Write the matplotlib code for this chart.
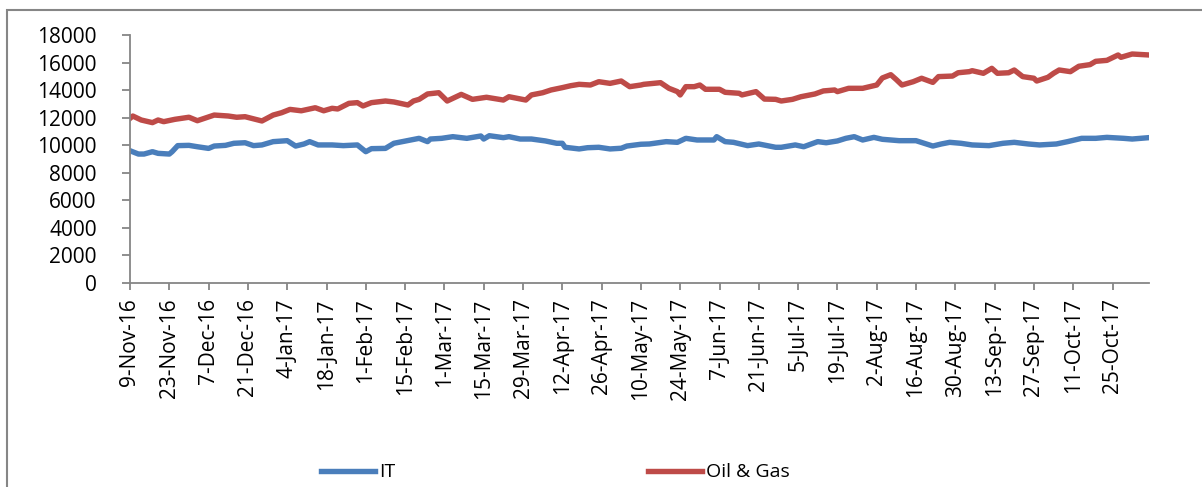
#!/usr/bin/env python3

import numpy as np
import pandas as pd
import matplotlib
matplotlib.use('Agg')
from matplotlib import pyplot as plt
from matplotlib import dates as mdates
from matplotlib.patches import Rectangle
from matplotlib.ticker import FuncFormatter, MultipleLocator

# IT index
it_dates = ['2016-11-09','2016-11-12','2016-11-14','2016-11-17','2016-11-19','2016-11-23','2016-11-24',
            '2016-11-26','2016-11-30','2016-12-03','2016-12-07','2016-12-09','2016-12-13','2016-12-16',
            '2016-12-20','2016-12-23','2016-12-26','2016-12-30','2017-01-04','2017-01-07','2017-01-10',
            '2017-01-12','2017-01-15','2017-01-20','2017-01-24','2017-01-29','2017-02-01','2017-02-03',
            '2017-02-08','2017-02-11','2017-02-14','2017-02-17','2017-02-20','2017-02-23','2017-02-24',
            '2017-02-28','2017-03-04','2017-03-09','2017-03-14','2017-03-15','2017-03-17','2017-03-22',
            '2017-03-24','2017-03-28','2017-04-01','2017-04-06','2017-04-10','2017-04-12','2017-04-13',
            '2017-04-18','2017-04-21','2017-04-25','2017-04-29','2017-05-03','2017-05-05','2017-05-10',
            '2017-05-13','2017-05-19','2017-05-23','2017-05-26','2017-05-30','2017-06-05','2017-06-06',
            '2017-06-09','2017-06-12','2017-06-17','2017-06-21','2017-06-27','2017-06-29','2017-07-04',
            '2017-07-07','2017-07-12','2017-07-15','2017-07-19','2017-07-22','2017-07-25','2017-07-28',
            '2017-08-01','2017-08-04','2017-08-10','2017-08-16','2017-08-22','2017-08-25','2017-08-28',
            '2017-09-01','2017-09-05','2017-09-11','2017-09-16','2017-09-20','2017-09-25','2017-09-29',
            '2017-10-05','2017-10-09','2017-10-14','2017-10-19','2017-10-23','2017-10-29','2017-11-01',
            '2017-11-07']
it_values = [9600, 9360, 9360, 9530, 9410, 9360, 9530,
             9970, 9990, 9890, 9770, 9940, 9990, 10140,
             10180, 9970, 10020, 10260, 10330, 9940, 10090,
             10260, 10020, 10020, 9970, 10020, 9530, 9750,
             9770, 10140, 10260, 10380, 10500, 10260, 10450,
             10500, 10620, 10500, 10670, 10450, 10690, 10550,
             10620, 10450, 10450, 10310, 10140, 10140, 9850,
             9730, 9820, 9850, 9730, 9780, 9940, 10070,
             10090, 10260, 10210, 10500, 10380, 10380, 10620,
             10260, 10210, 9970, 10090, 9850, 9850, 10020,
             9890, 10260, 10180, 10310, 10500, 10620, 10380,
             10570, 10430, 10330, 10330, 9940, 10090, 10210,
             10140, 10020, 9970, 10140, 10210, 10090, 10020,
             10090, 10260, 10500, 10500, 10570, 10500, 10450,
             10550]

# Oil & Gas index
oil_dates = ['2016-11-09','2016-11-10','2016-11-13','2016-11-17','2016-11-19','2016-11-21','2016-11-25',
             '2016-11-30','2016-12-03','2016-12-09','2016-12-14','2016-12-17','2016-12-20','2016-12-26',
             '2016-12-30','2017-01-02','2017-01-05','2017-01-09','2017-01-14','2017-01-17','2017-01-20',
             '2017-01-22','2017-01-26','2017-01-29','2017-01-31','2017-02-03','2017-02-08','2017-02-11',
             '2017-02-16','2017-02-18','2017-02-20','2017-02-23','2017-02-27','2017-03-02','2017-03-07',
             '2017-03-11','2017-03-16','2017-03-22','2017-03-24','2017-03-30','2017-04-01','2017-04-05',
             '2017-04-08','2017-04-12','2017-04-15','2017-04-18','2017-04-22','2017-04-25','2017-04-29',
             '2017-05-03','2017-05-06','2017-05-10','2017-05-11','2017-05-17','2017-05-20','2017-05-23',
             '2017-05-24','2017-05-26','2017-05-29','2017-05-31','2017-06-02','2017-06-07','2017-06-09',
             '2017-06-14','2017-06-15','2017-06-20','2017-06-23','2017-06-27','2017-06-29','2017-07-03',
             '2017-07-06','2017-07-11','2017-07-14','2017-07-18','2017-07-19','2017-07-23','2017-07-28',
             '2017-08-02','2017-08-04','2017-08-07','2017-08-09','2017-08-11','2017-08-15','2017-08-18',
             '2017-08-22','2017-08-24','2017-08-29','2017-08-31','2017-09-04','2017-09-05','2017-09-09',
             '2017-09-12','2017-09-14','2017-09-18','2017-09-20','2017-09-23','2017-09-27','2017-09-28',
             '2017-10-02','2017-10-04','2017-10-06','2017-10-10','2017-10-13','2017-10-17','2017-10-19',
             '2017-10-23','2017-10-27','2017-10-28','2017-11-01','2017-11-07']
oil_values = [11950, 12120, 11830, 11640, 11830, 11710, 11880,
              12030, 11780, 12190, 12120, 12030, 12070, 11760,
              12190, 12360, 12600, 12500, 12720, 12500, 12680,
              12630, 13040, 13090, 12850, 13090, 13210, 13140,
              12920, 13210, 13330, 13720, 13810, 13210, 13690,
              13330, 13480, 13280, 13520, 13280, 13650, 13810,
              14010, 14180, 14320, 14420, 14370, 14610, 14490,
              14660, 14250, 14370, 14420, 14540, 14130, 13890,
              13650, 14250, 14250, 14370, 14060, 14060, 13840,
              13770, 13650, 13890, 13350, 13330, 13210, 13330,
              13520, 13720, 13940, 14010, 13890, 14130, 14130,
              14370, 14880, 15120, 14760, 14370, 14610, 14860,
              14560, 14980, 15020, 15260, 15340, 15410, 15220,
              15580, 15220, 15260, 15460, 14980, 14860, 14660,
              14930, 15220, 15460, 15340, 15730, 15850, 16090,
              16160, 16550, 16380, 16620, 16550]

series_names = ['IT', 'Oil & Gas']
start_date = '2016-11-09'
end_date = '2017-11-07'
y_max = 18000
y_step = 2000

it_color = '#4A7EBB'
oil_color = '#BE4B48'
axis_gray = '#868686'
font = ['Open Sans', 'DejaVu Sans']


def tick_label(x, pos):
    ''' Excel style d-Mon-yy without leading zero '''
    d = mdates.num2date(x)
    return f'{d.day}-{d.strftime("%b-%y")}'


def plot():
    plt.rcParams['font.family'] = font

    fig = plt.figure(figsize=(12.02, 4.87), dpi=100)
    ax = fig.add_axes([130/1202, 1-283/487, (1149-130)/1202, (283-35)/487])

# chart area border (open to the right and bottom, as in the source)
    fig.patches.append(Rectangle((7/1202, -0.2), 1.2, 0.2+(1-10/487),
                                 transform=fig.transFigure, fill=False,
                                 edgecolor=axis_gray, lw=1.5, clip_on=False))

    it_x = pd.to_datetime(it_dates)
    oil_x = pd.to_datetime(oil_dates)
    ax.plot(it_x, it_values, color=it_color, lw=3.9, label=series_names[0], solid_joinstyle='round')
    ax.plot(oil_x, oil_values, color=oil_color, lw=3.9, label=series_names[1], solid_joinstyle='round')

    ax.set_xlim(pd.Timestamp(start_date), pd.Timestamp(end_date))
    ax.set_ylim(0, y_max)
    ax.yaxis.set_major_locator(MultipleLocator(y_step))
    ax.set_xticks(pd.date_range(start_date, end_date, freq='14D'))
    ax.xaxis.set_major_formatter(FuncFormatter(tick_label))

    for side in ['top', 'right']:
        ax.spines[side].set_visible(False)
    for side in ['left', 'bottom']:
        ax.spines[side].set_color(axis_gray)
        ax.spines[side].set_linewidth(1.3)

    ax.tick_params(axis='y', direction='out', length=6, width=1.3, color=axis_gray,
                   labelsize=15, pad=18)
    ax.tick_params(axis='x', direction='out', length=5, width=1.3, color=axis_gray,
                   labelsize=15, pad=6, labelrotation=90)

    ax.legend(loc='center', bbox_to_anchor=(0.462, 0.03), bbox_transform=fig.transFigure,
              ncol=2, frameon=False, fontsize=14, handlelength=2.8, handletextpad=0.2,
              columnspacing=13)

    fig.savefig('out.png', dpi=100)


plot()
